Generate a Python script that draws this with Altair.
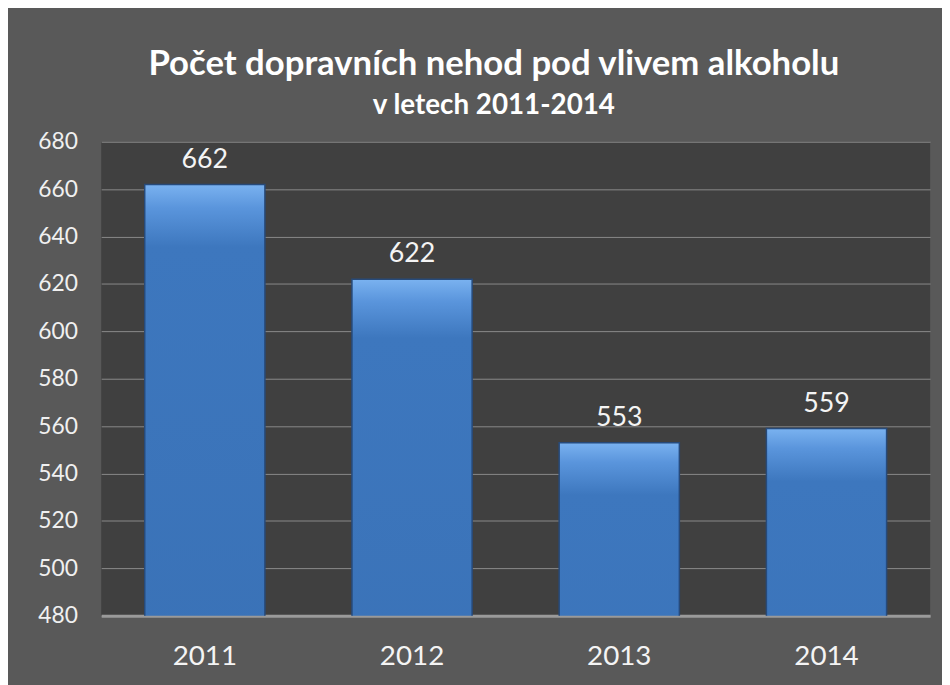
import altair as alt
import pandas as pd

years = ["2011", "2012", "2013", "2014"]
counts = [662, 622, 553, 559]
y_ticks = [480, 500, 520, 540, 560, 580, 600, 620, 640, 660, 680]

df = pd.DataFrame({"rok": years, "pocet": counts})

FONT = "Lato"

x = alt.X("rok:N", sort=years, title=None,
          scale=alt.Scale(paddingInner=0.42, paddingOuter=0.21),
          axis=alt.Axis(labelAngle=0, labelFontSize=28, labelColor="#f4f4f4",
                        labelFont=FONT, labelPadding=27, ticks=False,
                        domain=True, domainColor="#9a9a9a", domainWidth=3))
y = alt.Y("pocet:Q", title=None,
          scale=alt.Scale(domain=[480, 680], nice=False, zero=False),
          axis=alt.Axis(values=y_ticks, labelFontSize=23, labelColor="#f0f0f0",
                        labelFont=FONT, labelPadding=24, ticks=False, domain=False,
                        gridColor="#8a8a8a", gridWidth=1))

bars = alt.Chart(df).mark_bar(
    color=alt.Gradient(
        gradient="linear", x1=0, x2=0, y1=0, y2=1,
        stops=[alt.GradientStop(color="#7ab2f0", offset=0),
               alt.GradientStop(color="#5a95dc", offset=0.015),
               alt.GradientStop(color="#3d77be", offset=0.04),
               alt.GradientStop(color="#3a72b7", offset=0.3),
               alt.GradientStop(color="#2f5d97", offset=1)]),
    stroke="#274a7a", strokeWidth=1.5, clip=True
).encode(x=x, y=y)

labels = alt.Chart(df).mark_text(
    baseline="bottom", dy=-11, fontSize=27, color="#f4f4f4", font=FONT
).encode(x=alt.X("rok:N", sort=years), y="pocet:Q", text="pocet:Q")

chart = alt.layer(bars, labels).properties(
    width=836, height=478,
    autosize=alt.AutoSizeParams(type="none"),
    padding={"left": 94, "top": 132, "right": 12, "bottom": 67},
    background="#595959",
    title=alt.TitleParams(
        text="Počet dopravních nehod pod vlivem alkoholu",
        subtitle="v letech 2011-2014",
        fontSize=35, subtitleFontSize=28, font=FONT, subtitleFont=FONT,
        fontWeight="bold", subtitleFontWeight="bold",
        color="#ffffff", subtitleColor="#ffffff",
        anchor="middle", frame="group", dx=-22, offset=11,
        subtitlePadding=10)
).configure_view(fill="#404040", stroke=None)

chart.save("out.html", embed_options={"renderer": "svg", "actions": False})
